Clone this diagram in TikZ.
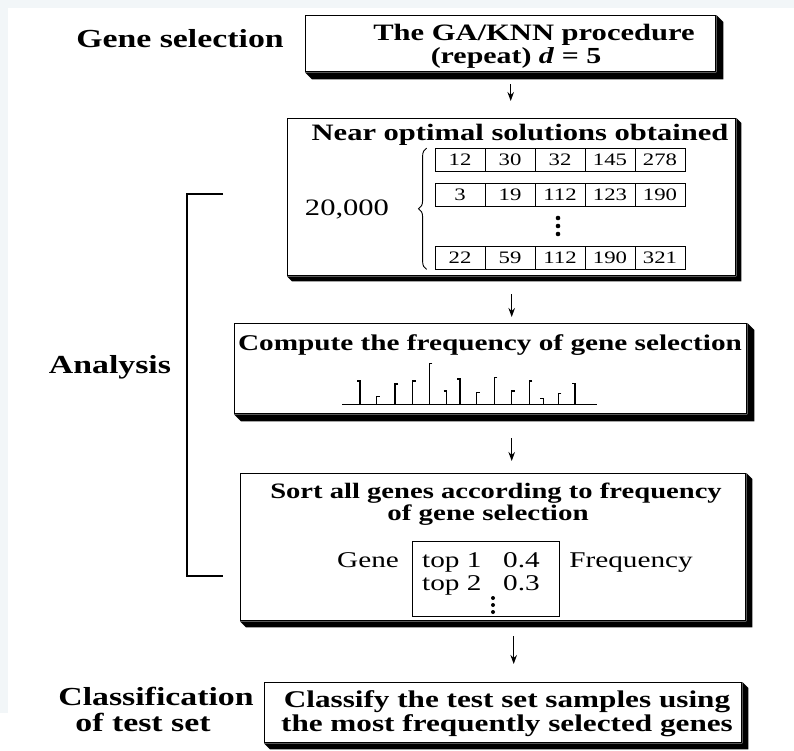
\documentclass[tikz,border=0pt]{standalone}
\usepackage{fontspec}
\setmainfont[FakeStretch=1.3]{Liberation Serif}
\usetikzlibrary{arrows.meta,calc,decorations.pathreplacing}
\newcommand{\fsz}[1]{\fontsize{#1}{#1}\selectfont}
\definecolor{edgetint}{RGB}{242,246,248}

\begin{document}
\begin{tikzpicture}[x=1pt,y=-1pt,
  panel/.style={draw, line width=1.4pt, fill=white, inner sep=0pt, anchor=north west},
  txt/.style={inner sep=0pt, anchor=base},
  cell/.style={draw, line width=0.8pt, minimum width=50pt, minimum height=23pt, inner sep=0pt, font=\fsz{17.5}},
  link/.style={-{Stealth[length=9pt,width=6.5pt]}, line width=1.3pt},
  bar/.style={line width=1.1pt}]

% page and edge tint
\useasboundingbox (0,0) rectangle (794,750);
\fill[white] (0,0) rectangle (794,750);
\fill[edgetint] (0,0) rectangle (794,8);
\fill[edgetint] (0,0) rectangle (8,713);

% panels
\node[panel, minimum width=410pt, minimum height=56pt]  (b1) at (305,15)  {};
\node[panel, minimum width=448pt, minimum height=157pt] (b2) at (287,118) {};
\node[panel, minimum width=512pt, minimum height=90pt]  (b3) at (234,323) {};
\node[panel, minimum width=505pt, minimum height=147pt] (b4) at (240,473) {};
\node[panel, minimum width=477pt, minimum height=60pt]  (b5) at (264,682) {};

% extruded shadows on the right and bottom sides
\foreach \b/\d in {b1/7,b2/5,b3/7,b4/6,b5/6}
  \fill[black] (\b.north east) -- ($(\b.north east)+(\d,\d)$) -- ($(\b.south east)+(\d,\d)$)
     -- ($(\b.south west)+(\d,\d)$) -- (\b.south west) -- (\b.south east) -- cycle;

% side labels
\node[txt, font=\bfseries\fsz{26}] (lgs) at (180,47) {Gene selection};
\node[txt, font=\bfseries\fsz{26}] (lan) at (110,373) {Analysis};
\node[txt, font=\bfseries\fsz{26}] (lc1) at (156,705) {Classification};
\node[txt, font=\bfseries\fsz{26}] (lc2) at (143,731) {of test set};

% bracket spanning the analysis steps
\coordinate (an1) at (223,194);
\coordinate (an2) at (187,194);
\coordinate (an3) at (187,576);
\coordinate (an4) at (223,576);
\draw[line width=1.2pt] (an1) -- (an2) -- (an3) -- (an4);

% panel 1
\node[txt, font=\bfseries\fsz{23.5}] (t1a) at (534,40) {The GA/KNN procedure};
\node[txt, font=\bfseries\fsz{23}] (t1b) at (516,63) {(repeat) \textit{d} = 5};

% panel 2
\node[txt, font=\bfseries\fsz{23.5}] (t2) at (520,140) {Near optimal solutions obtained};
\foreach \r/\y/\vals in {1/160/{12,30,32,145,278}, 2/195/{3,19,112,123,190}, 3/257.5/{22,59,112,190,321}} {
  \foreach \v [count=\c] in \vals
    \node[cell] (c\r\c) at (410+50*\c,\y) {\v};
}
\foreach \y [count=\i] in {218,226,234}
  \fill (558,\y) circle (2.3pt);
\draw[decorate, decoration={brace, amplitude=8pt, aspect=0.5}, line width=0.9pt]
  ($(c31.south west)+(-8,0)$) -- ($(c11.north west)+(-8,0)$);
\node[txt, font=\fsz{23.5}] (n20k) at (347,215) {20,000};

% panel 3
\node[txt, font=\bfseries\fsz{22.5}] (t3) at (490,350) {Compute the frequency of gene selection};
\coordinate (hb0) at (342,404.3);
\coordinate (hb1) at (597,404.3);
\draw[bar] (hb0) -- (hb1);
\foreach \x/\t/\s in {360/381/-1, 376.7/396.7/1, 395/384/1, 412.7/381/1, 429.3/363.3/1,
    446.7/391/-1, 460/379/-1, 476.7/392.7/1, 494.3/377.7/1, 511.7/391/1,
    529.3/381/1, 543.3/398.3/-1, 558.3/393.3/1, 575/383.3/-1}
  \draw[bar] (\x+3*\s,\t) -- (\x,\t) -- (\x,404.3);

% panel 4
\node[txt, font=\bfseries\fsz{22}] (t4a) at (496,498) {Sort all genes according to frequency};
\node[txt, font=\bfseries\fsz{22.3}] (t4b) at (488,520) {of gene selection};
\node[draw, line width=1pt, minimum width=147pt, minimum height=75pt, inner sep=0pt, anchor=north west] (tbl) at (412,541) {};
\node[txt, font=\fsz{22.5}] (lg) at (368,567) {Gene};
\node[txt, font=\fsz{22.5}] (lf) at (631,567) {Frequency};
\node[txt, anchor=base west, font=\fsz{22.5}] (r1a) at (422,567) {top 1};
\node[txt, anchor=base west, font=\fsz{22.5}] (r1b) at (503,567) {0.4};
\node[txt, anchor=base west, font=\fsz{22.5}] (r2a) at (422,590) {top 2};
\node[txt, anchor=base west, font=\fsz{22.5}] (r2b) at (503,590) {0.3};
\foreach \y in {598,605,612}
  \fill (493,\y) circle (2pt);

% panel 5
\node[txt, font=\bfseries\fsz{24}] (t5a) at (507,707) {Classify the test set samples using};
\node[txt, font=\bfseries\fsz{24}] (t5b) at (507,731) {the most frequently selected genes};

% flow arrows
\draw[link, shorten <=12pt, shorten >=17pt] (b1.south) -- (b1.south |- b2.north);
\draw[link, shorten <=18pt, shorten >=6pt] (b2.south) -- (b2.south |- b3.north);
\draw[link, shorten <=24pt, shorten >=12pt] (b3.south -| b2.south) -- (b4.north -| b2.south);
\draw[link, shorten <=15pt, shorten >=18pt] ($(b4.south -| b2.south)+(2,0)$) -- ($(b5.north -| b2.south)+(2,0)$);
\end{tikzpicture}
\end{document}
